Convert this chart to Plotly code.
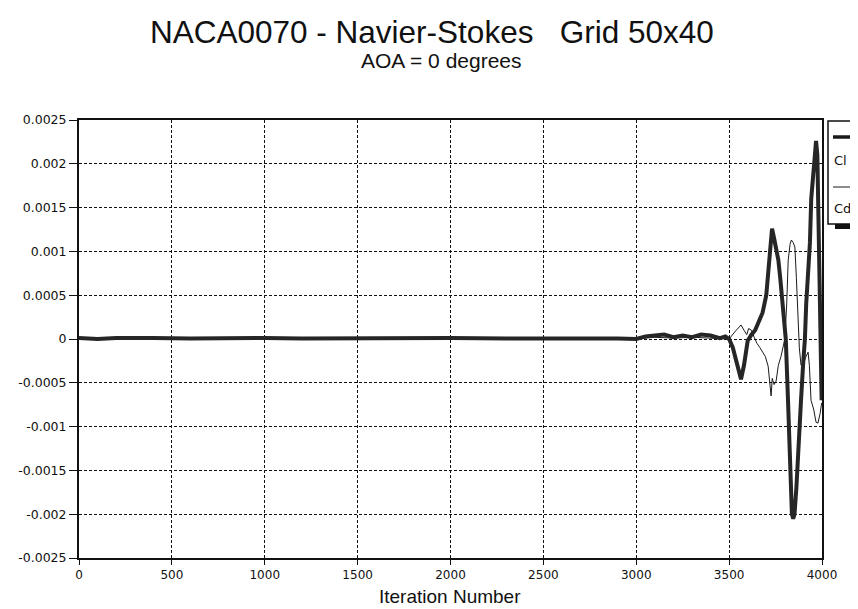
import plotly.graph_objects as go

# ---- data ----
cl_x = [0, 100, 200, 300, 400, 600, 800, 1000, 1200, 1500, 1800, 2000, 2300, 2600, 2900,
        3000, 3050, 3100, 3150, 3200, 3250, 3300, 3350, 3400, 3450, 3480, 3500,
        3520, 3545, 3564, 3580, 3600, 3620, 3640, 3660, 3680, 3700, 3715, 3725, 3731,
        3742, 3752, 3765, 3775, 3790, 3805, 3817, 3828, 3838, 3845, 3852, 3862, 3871,
        3887, 3898, 3908, 3915, 3925, 3935, 3942, 3952, 3960, 3968, 3975, 3980, 3986,
        3992, 3998]
cl_y = [0.00001, 0.0, 0.00001, 0.000005, 0.00001, 0.000005, 0.00001, 0.000012, 0.000005,
        0.00001, 0.000008, 0.00001, 0.000005, 0.00001, 0.000005,
        0.0, 0.00003, 0.00004, 0.00005, 0.00002, 0.00004, 0.00002, 0.00005, 0.00004,
        0.00001, 0.00003, 0.0,
        -0.0001, -0.0003, -0.00046, -0.0003, -0.00002, 0.00005, 0.0001, 0.0002, 0.0003,
        0.0005, 0.0009, 0.00118, 0.00126,
        0.00115, 0.00105, 0.0009, 0.0007, 0.0004, 0.0, -0.0007, -0.0015, -0.002, -0.00205,
        -0.002, -0.0017, -0.0014,
        -0.0007, -0.0003, 0.0, 0.0004, 0.0007, 0.0011, 0.0016, 0.00185, 0.0021, 0.00226,
        0.0021, 0.0015, 0.0006,
        -0.0002, -0.0007]

cd_x = [0, 200, 400, 700, 1000, 1300, 1600, 2000, 2400, 2800, 3000, 3100, 3200, 3300,
        3400, 3500, 3530, 3550, 3564, 3580, 3595, 3605, 3620, 3635, 3650, 3666, 3680,
        3695, 3710, 3720, 3726, 3732, 3742, 3753, 3765, 3779, 3790, 3800, 3810, 3818,
        3828, 3835, 3845, 3854, 3862, 3870, 3878, 3887, 3900, 3914, 3925, 3932, 3941,
        3955, 3968, 3978, 3990, 3998]
cd_y = [0.0, -0.000005, 0.0, -0.000005, 0.0, 0.000005, 0.0, -0.000005, 0.0, 0.000005,
        0.0, 0.00002, 0.00001, 0.00002, 0.00001, 0.0, 0.00008, 0.00013, 0.00016, 0.0001,
        0.00005, 0.00012, 0.0001, 0.00002, -0.00005, -0.0001, -0.00015, -0.0002,
        -0.00031, -0.0005, -0.00065, -0.00045, -0.00052, -0.00048, -0.0003, -0.0002,
        -0.0001, 0.0, 0.0004, 0.0009, 0.00108, 0.00113, 0.0011, 0.00105, 0.0007, 0.0003,
        -0.0001, -0.0003, -0.00028, -0.0002, -0.00015, -0.0003, -0.0007, -0.0008,
        -0.00095, -0.00096, -0.00085, -0.00073]

x_ticks = [0, 500, 1000, 1500, 2000, 2500, 3000, 3500, 4000]
x_tick_labels = ["0", "500", "1000", "1500", "2000", "2500", "3000", "3500", "4000"]
y_ticks = [0.0025, 0.002, 0.0015, 0.001, 0.0005, 0, -0.0005, -0.001, -0.0015, -0.002, -0.0025]
y_tick_labels = ["0.0025", "0.002", "0.0015", "0.001", "0.0005", "0", "-0.0005",
                 "-0.001", "-0.0015", "-0.002", "-0.0025"]
series_names = ["Cl", "Cd"]

W, H = 858, 609
L, R, T, B = 71, 814, 112, 550   # plot area in pixels


def px(xp):
    return (xp - L) / (R - L)


def py(yp):
    return (B - yp) / (B - T)


fig = go.Figure()
fig.add_trace(go.Scatter(x=cd_x, y=cd_y, mode="lines", name=series_names[1],
                         line=dict(color="#1a1a1a", width=1), showlegend=False))
fig.add_trace(go.Scatter(x=cl_x, y=cl_y, mode="lines", name=series_names[0],
                         line=dict(color="#262626", width=4), showlegend=False))

tickfont = dict(family="DejaVu Sans", size=12.5, color="#111")
grid = dict(showgrid=True, gridcolor="#111", gridwidth=1, griddash="3px,2px")

fig.update_xaxes(range=[0, 4000], tickvals=x_ticks, ticktext=x_tick_labels,
                 ticks="outside", ticklen=5, tickcolor="#111",
                 tickfont=dict(family="DejaVu Sans", size=12, color="#111"),
                 showline=True, linecolor="#111", linewidth=2, mirror=True,
                 zeroline=False, **grid)
fig.update_yaxes(range=[-0.0025, 0.0025], tickvals=y_ticks, ticktext=y_tick_labels,
                 ticks="outside", ticklen=8, tickcolor="#111", tickfont=tickfont,
                 showline=True, linecolor="#111", linewidth=2, mirror=True,
                 zeroline=False, **grid)

annotations = [
    dict(text="NACA0070 - Navier-Stokes\u00a0\u00a0\u00a0Grid 50x40", xref="paper", yref="paper",
         x=px(424), y=py(24), xanchor="center", yanchor="middle", showarrow=False,
         font=dict(family="Liberation Sans", size=31.5, color="#111")),
    dict(text="AOA = 0 degrees", xref="paper", yref="paper",
         x=px(433), y=py(53), xanchor="center", yanchor="middle", showarrow=False,
         font=dict(family="Liberation Sans", size=21, color="#111")),
    dict(text="Iteration Number", xref="paper", yref="paper",
         x=px(442), y=py(588), xanchor="center", yanchor="middle", showarrow=False,
         font=dict(family="Liberation Sans", size=19, color="#111")),
    dict(text=series_names[0], xref="paper", yref="paper", x=px(824), y=py(152),
         xanchor="left", yanchor="middle", showarrow=False,
         font=dict(family="DejaVu Sans", size=13, color="#111")),
    dict(text=series_names[1], xref="paper", yref="paper", x=px(824), y=py(200),
         xanchor="left", yanchor="middle", showarrow=False,
         font=dict(family="DejaVu Sans", size=13, color="#111")),
]

shapes = [
    # legend shadow
    dict(type="rect", xref="paper", yref="paper", x0=px(827), x1=px(880), y0=py(221), y1=py(216),
         fillcolor="#111", line=dict(width=0), layer="above"),
    # legend box
    dict(type="rect", xref="paper", yref="paper", x0=px(820), x1=px(875), y0=py(216), y1=py(113),
         fillcolor="white", line=dict(color="#111", width=1.5), layer="above"),
    # legend samples
    dict(type="line", xref="paper", yref="paper", x0=px(825), x1=px(870), y0=py(129), y1=py(129),
         line=dict(color="#1a1a1a", width=3.5), layer="above"),
    dict(type="line", xref="paper", yref="paper", x0=px(825), x1=px(870), y0=py(179), y1=py(179),
         line=dict(color="#1a1a1a", width=1), layer="above"),
]

fig.update_layout(width=W, height=H, plot_bgcolor="white", paper_bgcolor="white",
                  margin=dict(l=L, r=W - R, t=T, b=H - B, autoexpand=False),
                  annotations=annotations, shapes=shapes, showlegend=False)

fig.write_html("out.html")
